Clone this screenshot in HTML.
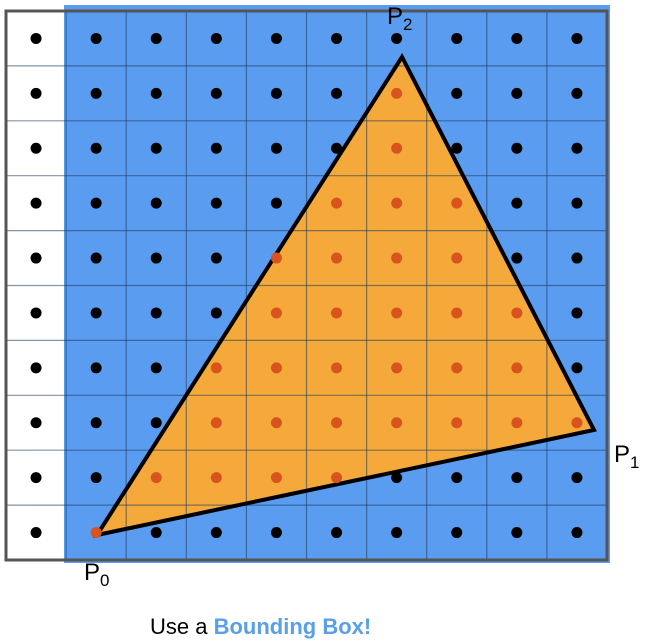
<!DOCTYPE html>
<html><head><meta charset="utf-8"><style>
html,body{margin:0;padding:0;background:#fff;width:651px;height:643px;overflow:hidden;font-family:"Liberation Sans",sans-serif}
</style></head><body>
<svg width="651" height="643" id="svg" xmlns="http://www.w3.org/2000/svg">
<rect x="64" y="5" width="546" height="558" fill="#5a9cf0"/>
<polygon id="tri" fill="#f4a93a"/>
<g id="grid"></g>
<polygon id="triedge" fill="none" stroke="#000" stroke-width="4" stroke-linejoin="miter"/>
<g id="dots"></g>
<rect x="6" y="11" width="601" height="549" fill="none" stroke="#555" stroke-width="3"/>
<text x="387" y="24" font-size="24">P<tspan font-size="17" dy="6">2</tspan></text>
<text x="614" y="462" font-size="24">P<tspan font-size="17" dy="6">1</tspan></text>
<text x="84" y="580" font-size="24">P<tspan font-size="17" dy="6">0</tspan></text>
<text x="150" y="634" font-size="22">Use a <tspan font-weight="bold" fill="#5aa0e8">Bounding Box!</tspan></text>
</svg>
<script>
const cols=10, rows=10;
const verts=[[97,535],[594,430],[402,57]];
const x0=6,y0=11,cw=60.1,rh=54.9;
const NS="http://www.w3.org/2000/svg";
const grid=document.getElementById('grid'), dots=document.getElementById('dots');
for(let i=1;i<cols;i++){const l=document.createElementNS(NS,'line');


l.setAttribute('x1',x0+i*cw);l.setAttribute('x2',x0+i*cw);l.setAttribute('y1',y0);l.setAttribute('y2',y0+rows*rh);l.setAttribute('stroke','#1e3a5a');l.setAttribute('stroke-opacity','0.55');l.setAttribute('stroke-width','1.2');grid.appendChild(l);}
for(let j=1;j<rows;j++){const l=document.createElementNS(NS,'line');


l.setAttribute('x1',x0);l.setAttribute('x2',x0+cols*cw);l.setAttribute('y1',y0+j*rh);l.setAttribute('y2',y0+j*rh);l.setAttribute('stroke','#1e3a5a');l.setAttribute('stroke-opacity','0.55');l.setAttribute('stroke-width','1.2');grid.appendChild(l);}
const pts=verts.map(v=>v.join(',')).join(' ');
document.getElementById('tri').setAttribute('points',pts);
document.getElementById('triedge').setAttribute('points',pts);
function side(a,b,p){return (b[0]-a[0])*(p[1]-a[1])-(b[1]-a[1])*(p[0]-a[0]);}
function inside(p){
for(const v of verts){if(Math.hypot(v[0]-p[0],v[1]-p[1])<6)return true;}
const d1=side(verts[0],verts[1],p),d2=side(verts[1],verts[2],p),d3=side(verts[2],verts[0],p);
return !((d1<0||d2<0||d3<0)&&(d1>0||d2>0||d3>0));}
for(let i=0;i<cols;i++)for(let j=0;j<rows;j++){
const p=[x0+(i+0.5)*cw,y0+(j+0.5)*rh];
const c=document.createElementNS(NS,'circle');


c.setAttribute('cx',p[0]);c.setAttribute('cy',p[1]);c.setAttribute('r',5.5);
c.setAttribute('fill',inside(p)?'#d9531e':'#000');dots.appendChild(c);}
</script>
</body></html>
